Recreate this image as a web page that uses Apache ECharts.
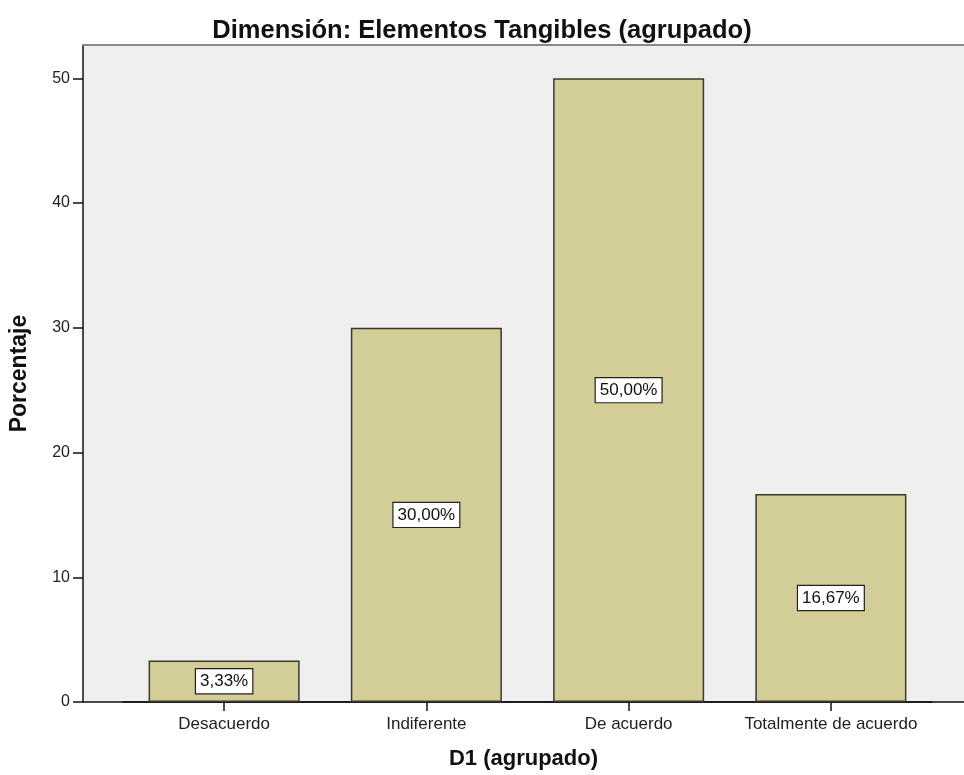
<!DOCTYPE html>
<html>
<head>
<meta charset="utf-8">
<script src="https://cdn.jsdelivr.net/npm/echarts@6/dist/echarts.min.js"></script>
<style>
  html, body { margin: 0; padding: 0; background: #ffffff; }
  #chart { width: 964px; height: 775px; }
</style>
</head>
<body>
<div id="chart"></div>
<script>
// Category names and percentage values
const categories = ['Desacuerdo', 'Indiferente', 'De acuerdo', 'Totalmente de acuerdo'];
const percentages = [3.33, 30.00, 50.00, 16.67];
const yTicks = [0, 10, 20, 30, 40, 50];

const titleText = 'Dimensión: Elementos Tangibles (agrupado)';
const xTitle = 'D1 (agrupado)';
const yTitle = 'Porcentaje';

const Y_MAX = 52.67;
const FONT = '"Liberation Sans", Arial, sans-serif';

const chart = echarts.init(document.getElementById('chart'), null, { renderer: 'canvas' });

chart.setOption({
  backgroundColor: '#ffffff',
  animation: false,
  title: {
    text: titleText,
    left: 'center',
    top: 13,
    textStyle: { fontFamily: FONT, fontSize: 25.5, fontWeight: 'bold', color: '#111' }
  },
  grid: [
    // frame: grey panel with axes
    { left: 78, right: 0, top: 45, bottom: 73, show: true, backgroundColor: '#efefef', borderWidth: 0 },
    // bars
    { left: 123, right: 32, top: 45, bottom: 73 }
  ],
  xAxis: [
    {
      gridIndex: 0, type: 'category', data: [''], position: 'bottom',
      axisLine: { lineStyle: { color: '#111', width: 1.5 } },
      axisTick: { show: false }, axisLabel: { show: false }, splitLine: { show: false },
      name: xTitle, nameLocation: 'middle', nameGap: 46,
      nameTextStyle: { fontFamily: FONT, fontSize: 22, fontWeight: 'bold', color: '#111' }
    },
    {
      gridIndex: 0, type: 'category', data: [''], position: 'top',
      axisLine: { lineStyle: { color: '#8a8a8a', width: 2 } },
      axisTick: { show: false }, axisLabel: { show: false }, splitLine: { show: false }
    },
    {
      gridIndex: 1, type: 'category', data: categories,
      axisLine: { show: true, lineStyle: { color: '#111', width: 1.5 } },
      axisTick: { show: true, alignWithLabel: true, length: 9, lineStyle: { color: '#111', width: 1.5 } },
      axisLabel: { interval: 0, margin: 14, fontFamily: FONT, fontSize: 17, color: '#222' },
      splitLine: { show: false }
    }
  ],
  yAxis: [
    {
      gridIndex: 0, type: 'value', min: 0, max: Y_MAX,
      axisLine: { show: true, lineStyle: { color: '#111', width: 1.5 } },
      axisTick: { show: true, length: 10, customValues: yTicks, lineStyle: { color: '#111', width: 1.5 } },
      axisLabel: { customValues: yTicks, margin: 13, fontFamily: FONT, fontSize: 16, color: '#222' },
      splitLine: { show: false },
      name: yTitle, nameLocation: 'middle', nameRotate: 90, nameGap: 52,
      nameTextStyle: { fontFamily: FONT, fontSize: 23, fontWeight: 'bold', color: '#111' }
    },
    {
      gridIndex: 1, type: 'value', min: 0, max: Y_MAX, show: false
    }
  ],
  series: [{
    type: 'bar',
    xAxisIndex: 2,
    yAxisIndex: 1,
    data: percentages,
    barWidth: '74.7%',
    itemStyle: { color: '#d3cd97', borderColor: '#3b3a2c', borderWidth: 1.5 },
    label: {
      show: true,
      position: 'inside',
      formatter: p => p.value.toFixed(2).replace('.', ',') + '%',
      fontFamily: FONT, fontSize: 17, color: '#111',
      backgroundColor: '#ffffff', borderColor: '#222', borderWidth: 1.2,
      padding: [4, 4, 3, 4]
    }
  }]
});
</script>
</body>
</html>
